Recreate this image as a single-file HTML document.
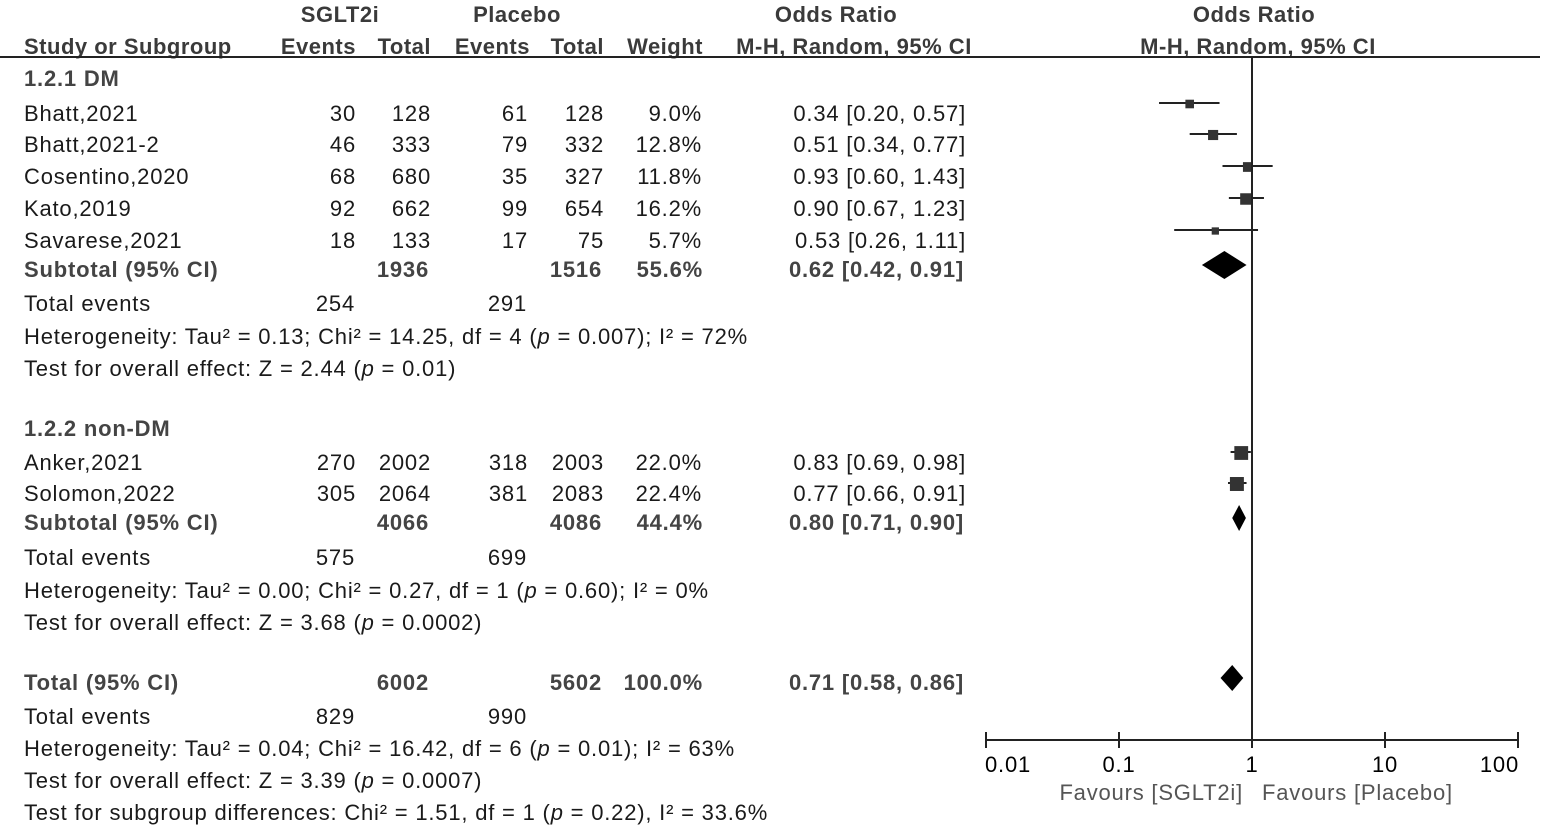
<!DOCTYPE html>
<html><head><meta charset="utf-8"><style>
html,body{margin:0;padding:0;background:#fff;}
svg{display:block;font-family:"Liberation Sans",Arial,sans-serif;}
#rows text,#axis text{letter-spacing:0.8px;}
</style></head><body>
<svg id="plot" width="1547" height="827" viewBox="0 0 1547 827" xmlns="http://www.w3.org/2000/svg">
<g font-size="22" font-weight="bold" fill="#3a3a3a" letter-spacing="0.5">
<text x="340" y="22" text-anchor="middle">SGLT2i</text>
<text x="517" y="22" text-anchor="middle">Placebo</text>
<text x="836" y="22" text-anchor="middle">Odds Ratio</text>
<text x="1254" y="22" text-anchor="middle">Odds Ratio</text>
<text x="24" y="54">Study or Subgroup</text>
<text x="356" y="54" text-anchor="end">Events</text>
<text x="431" y="54" text-anchor="end">Total</text>
<text x="530" y="54" text-anchor="end">Events</text>
<text x="604" y="54" text-anchor="end">Total</text>
<text x="703" y="54" text-anchor="end">Weight</text>
<text x="854" y="54" text-anchor="middle">M-H, Random, 95% CI</text>
<text x="1258" y="54" text-anchor="middle">M-H, Random, 95% CI</text>
</g>
<line x1="0" y1="57" x2="1540" y2="57" stroke="#222" stroke-width="2"/>
<g id="rows" font-size="22" fill="#1a1a1a"></g>
<g id="marks"></g>
<g id="axis"></g>
</svg>
<script>
const studies=["Bhatt,2021","Bhatt,2021-2","Cosentino,2020","Kato,2019","Savarese,2021","Anker,2021","Solomon,2022"];
const studyY=[113,144,176,208,240,462,493];
const evT=[30,46,68,92,18,270,305];
const totT=[128,333,680,662,133,2002,2064];
const evC=[61,79,35,99,17,318,381];
const totC=[128,332,327,654,75,2003,2083];
const weights=[9.0,12.8,11.8,16.2,5.7,22.0,22.4];
const orVal=[0.34,0.51,0.93,0.90,0.53,0.83,0.77];
const orLo=[0.20,0.34,0.60,0.67,0.26,0.69,0.66];
const orHi=[0.57,0.77,1.43,1.23,1.11,0.98,0.91];
const sumLabels=["Subtotal (95% CI)","Subtotal (95% CI)","Total (95% CI)"];
const sumY=[269,522,682];
const sumTotT=[1936,4066,6002];
const sumTotC=[1516,4086,5602];
const sumW=["55.6%","44.4%","100.0%"];
const sumOR=[0.62,0.80,0.71];
const sumLo=[0.42,0.71,0.58];
const sumHi=[0.91,0.90,0.86];
const ticks=[0.01,0.1,1,10,100];
const tickLabels=["0.01","0.1","1","10","100"];
const NS="http://www.w3.org/2000/svg";
const X0=986,X1=1518,AXY=740;
function xs(v){return X0+(Math.log10(v)+2)/4*(X1-X0);}
function f2(v){return v.toFixed(2);}
const rows=document.getElementById('rows'),marks=document.getElementById('marks'),axis=document.getElementById('axis');
function txt(parent,x,y,s,anchor,bold,fill){const t=document.createElementNS(NS,'text');t.setAttribute('x',x);t.setAttribute('y',y);t.innerHTML=s;if(anchor)t.setAttribute('text-anchor',anchor);if(bold){t.setAttribute('font-weight','bold');t.setAttribute('fill','#444');}if(fill)t.setAttribute('fill',fill);parent.appendChild(t);return t;}
function el(parent,tag,attrs){const e=document.createElementNS(NS,tag);for(const k in attrs)e.setAttribute(k,attrs[k]);parent.appendChild(e);return e;}
studies.forEach((s,i)=>{const y=studyY[i]+8;
let t=txt(rows,24,y,s);
txt(rows,356,y,evT[i],'end');txt(rows,431,y,totT[i],'end');txt(rows,528,y,evC[i],'end');txt(rows,604,y,totC[i],'end');
txt(rows,702,y,weights[i].toFixed(1)+'%','end');
txt(rows,966,y,f2(orVal[i])+' ['+f2(orLo[i])+', '+f2(orHi[i])+']','end');
const cy=studyY[i]-10;
let l=el(marks,'line',{x1:xs(orLo[i]),x2:xs(orHi[i]),y1:cy,y2:cy,stroke:'#222','stroke-width':2});

const sz=5+weights[i]*0.4;
let r=el(marks,'rect',{x:xs(orVal[i])-sz/2,y:cy-sz/2+1,width:sz,height:sz,fill:'#333'});

});
sumLabels.forEach((s,i)=>{const y=sumY[i]+8;
let t=txt(rows,24,y,s,null,true);
txt(rows,429,y,sumTotT[i],'end',true);txt(rows,602,y,sumTotC[i],'end',true);txt(rows,703,y,sumW[i],'end',true);
txt(rows,964,y,f2(sumOR[i])+' ['+f2(sumLo[i])+', '+f2(sumHi[i])+']','end',true);
const cy=sumY[i]-4;const h=i==0?14:13;
let p=el(marks,'polygon',{points:`${xs(sumLo[i])},${cy} ${xs(sumOR[i])},${cy-h} ${xs(sumHi[i])},${cy} ${xs(sumOR[i])},${cy+h}`,fill:'#000'});

});
const P='<tspan font-style="italic">p</tspan>';
const extra=[[24,78+8,'1.2.1 DM',1],[24,428+8,'1.2.2 non-DM',1],
[24,303+8,'Total events'],[355,303+8,'254','end'],[527,303+8,'291','end'],
[24,336+8,'Heterogeneity: Tau² = 0.13; Chi² = 14.25, df = 4 ('+P+' = 0.007); I² = 72%'],
[24,368+8,'Test for overall effect: Z = 2.44 ('+P+' = 0.01)'],
[24,557+8,'Total events'],[355,557+8,'575','end'],[527,557+8,'699','end'],
[24,590+8,'Heterogeneity: Tau² = 0.00; Chi² = 0.27, df = 1 ('+P+' = 0.60); I² = 0%'],
[24,622+8,'Test for overall effect: Z = 3.68 ('+P+' = 0.0002)'],
[24,716+8,'Total events'],[355,716+8,'829','end'],[527,716+8,'990','end'],
[24,748+8,'Heterogeneity: Tau² = 0.04; Chi² = 16.42, df = 6 ('+P+' = 0.01); I² = 63%'],
[24,780+8,'Test for overall effect: Z = 3.39 ('+P+' = 0.0007)'],
[24,812+8,'Test for subgroup differences: Chi² = 1.51, df = 1 ('+P+' = 0.22), I² = 33.6%']];
extra.forEach(e=>{const a=e[3]===1?null:e[3];let t=txt(rows,e[0],e[1],e[2],a,e[3]===1);});
let v=el(axis,'line',{x1:xs(1),x2:xs(1),y1:57,y2:AXY,stroke:'#222','stroke-width':2});

let a=el(axis,'line',{x1:X0,x2:X1,y1:AXY,y2:AXY,stroke:'#222','stroke-width':2});

ticks.forEach((t,i)=>{el(axis,'line',{x1:xs(t),x2:xs(t),y1:AXY-8,y2:AXY+8,stroke:'#222','stroke-width':2});
const anchor=i==0?'start':(i==ticks.length-1?'end':'middle');
let tl=txt(axis,i==0?xs(t)-1:(i==ticks.length-1?xs(t)+1:xs(t)),772,tickLabels[i],anchor);tl.setAttribute('font-size','22');
});
let fl=txt(axis,1243,800,'Favours [SGLT2i]','end',false,'#555');fl.setAttribute('font-size','22');

let fr=txt(axis,1262,800,'Favours [Placebo]','start',false,'#555');fr.setAttribute('font-size','22');

</script>
</body></html>
